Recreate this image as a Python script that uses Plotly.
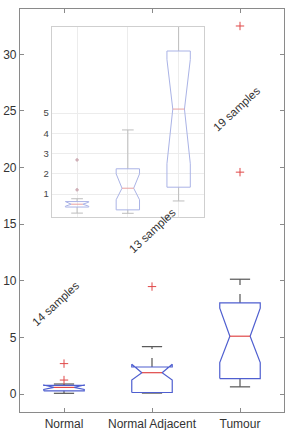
import plotly.graph_objects as go

# ---------------- data ----------------
categories = ["Normal", "Normal Adjacent", "Tumour"]
sample_labels = ["14 samples", "13 samples", "19 samples"]

# main chart box statistics
lower_whisker = [0.08, 0.10, 0.65]
q1 = [0.30, 0.15, 1.38]
median = [0.60, 1.90, 5.12]
q3 = [0.78, 2.40, 8.06]
upper_whisker = [0.90, 4.20, 10.15]
notch_low = [0.42, 1.25, 2.80]
notch_high = [0.82, 2.65, 7.60]
outliers = [[1.25, 2.70], [9.50], [19.60, 32.50]]

# inset (zoomed) box statistics
in_lower_whisker = [0.06, 0.05, 0.66]
in_q1 = [0.36, 0.22, 1.34]
in_median = [0.50, 1.29, 5.20]
in_q3 = [0.63, 2.25, 8.07]
in_upper_whisker = [0.77, 4.17, 10.15]
in_notch_low = [0.40, 0.72, 2.50]
in_notch_high = [0.60, 2.00, 7.65]
in_outliers = [[1.21, 2.69], [9.50], [19.60, 32.50]]

main_yticks = [0, 5, 10, 15, 20, 25, 30]
inset_yticks = [1, 2, 3, 4, 5]

# ---------------- styling ----------------
HALF = 0.23
BLUE = "#4f5fd0"
RED = "#e04848"
WHISK = "#555555"
IN_BLUE = "#aab3e6"
IN_RED = "#e8a0a0"
IN_GRAY = "#bdbdbd"
FONT = "Liberation Sans, Arial, sans-serif"

fig = go.Figure()


def add_boxes(xa, ya, lw, bq1, med, bq3, uw, nlo, nhi, outs, blue, red, wcol, wdash, ocol, lwidth, msize, osym):
    for i, cat in enumerate(categories):
        c = i + 1
        xs = [c - HALF, c - HALF, c - HALF / 2, c - HALF, c - HALF,
              c + HALF, c + HALF, c + HALF / 2, c + HALF, c + HALF, c - HALF]
        ys = [bq1[i], nlo[i], med[i], nhi[i], bq3[i],
              bq3[i], nhi[i], med[i], nlo[i], bq1[i], bq1[i]]
        # whiskers
        fig.add_trace(go.Scatter(x=[c, c, None, c, c], y=[bq3[i], uw[i], None, lw[i], bq1[i]],
                                 mode="lines", line=dict(color=wcol, width=lwidth, dash=wdash),
                                 xaxis=xa, yaxis=ya, showlegend=False, hoverinfo="skip"))
        fig.add_trace(go.Scatter(x=[c - HALF / 2, c + HALF / 2, None, c - HALF / 2, c + HALF / 2],
                                 y=[uw[i], uw[i], None, lw[i], lw[i]],
                                 mode="lines", line=dict(color=wcol, width=lwidth),
                                 xaxis=xa, yaxis=ya, showlegend=False, hoverinfo="skip"))
        # notched box
        fig.add_trace(go.Scatter(x=xs, y=ys, mode="lines", line=dict(color=blue, width=lwidth),
                                 xaxis=xa, yaxis=ya, showlegend=False, hoverinfo="skip"))
        # median
        fig.add_trace(go.Scatter(x=[c - HALF / 2, c + HALF / 2], y=[med[i], med[i]], mode="lines",
                                 line=dict(color=red, width=lwidth),
                                 xaxis=xa, yaxis=ya, showlegend=False, hoverinfo="skip"))
        # outliers
        fig.add_trace(go.Scatter(x=[c] * len(outs[i]), y=outs[i], mode="markers",
                                 marker=dict(symbol=osym, size=msize, color=ocol,
                                             line=dict(color=ocol, width=1)),
                                 xaxis=xa, yaxis=ya, showlegend=False, hoverinfo="skip"))


add_boxes("x", "y", lower_whisker, q1, median, q3, upper_whisker, notch_low, notch_high,
          outliers, BLUE, RED, WHISK, "dash", RED, 1.2, 6, "cross-thin")
add_boxes("x2", "y2", in_lower_whisker, in_q1, in_median, in_q3, in_upper_whisker,
          in_notch_low, in_notch_high, in_outliers, IN_BLUE, IN_RED, IN_GRAY, "solid",
          "#d0b0b8", 1, 2.5, "circle")

# sample-count annotations
ann_x = [0.90, 2.0, 2.96]
ann_y = [8.0, 14.4, 25.2]
for t, ax_, ay_ in zip(sample_labels, ann_x, ann_y):
    fig.add_annotation(x=ax_, y=ay_, xref="x", yref="y", text=t, showarrow=False,
                       textangle=-43, font=dict(family=FONT, size=11.5, color="#333333"))

fig.update_layout(
    width=288, height=430,
    margin=dict(l=20, r=4, t=9, b=18, autoexpand=False),
    paper_bgcolor="white", plot_bgcolor="white",
    font=dict(family=FONT, size=12, color="#333333"),
    xaxis=dict(domain=[0, 1], range=[0.5, 3.5], tickvals=[1, 2, 3], ticktext=categories,
               automargin=False,
               showgrid=False, zeroline=False, showline=True, linecolor="#8a8a8a", linewidth=1.2,
               mirror="ticks", ticks="inside", ticklen=4, tickcolor="#8a8a8a",
               tickfont=dict(size=12, color="#333333")),
    yaxis=dict(domain=[0, 1], range=[-1.57, 34.0], tickvals=main_yticks,
               automargin=False,
               showgrid=False, zeroline=False, showline=True, linecolor="#8a8a8a", linewidth=1.2,
               mirror="ticks", ticks="inside", ticklen=4, tickcolor="#8a8a8a",
               tickfont=dict(size=12, color="#333333")),
    xaxis2=dict(domain=[0.12, 0.697], range=[0.5, 3.5], anchor="y2", tickvals=[1, 2, 3],
                automargin=False,
                showticklabels=False, showgrid=True, gridcolor="#ececec", zeroline=False,
                showline=True, linecolor="#cfcfcf", mirror=True, ticks=""),
    yaxis2=dict(domain=[0.485, 0.956], range=[-0.11, 9.27], anchor="x2", tickvals=inset_yticks,
                automargin=False,
                showgrid=True, gridcolor="#ececec", zeroline=False,
                showline=True, linecolor="#cfcfcf", mirror=True, ticks="",
                tickfont=dict(size=9.5, color="#444444")),
)

fig.write_html("out.html")
